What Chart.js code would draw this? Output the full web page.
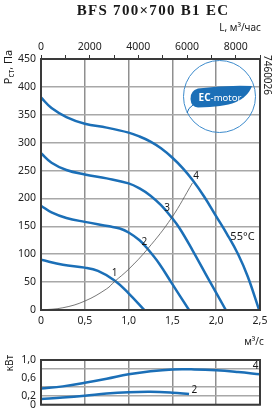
<!DOCTYPE html>
<html lang="ru">
<head>
<meta charset="UTF-8">
<title>BFS 700×700 B1 EC</title>
<script src="https://cdn.jsdelivr.net/npm/chart.js"></script>
<style>
    body { margin: 0; background: #fff; }
    #grafico { position: absolute; left: 0; top: 0; }
    #potencia { position: absolute; left: 0; top: 335px; }
</style>
</head>
<body>
<canvas id="grafico" width="273" height="335"></canvas>
<canvas id="potencia" width="273" height="81"></canvas>
<script>
// расход, м3/с  и давление, Па
const curva1Q = [0, 0.25, 0.5, 0.65, 0.84, 1.0, 1.18];
const curva1P = [90, 81, 76, 70, 53, 30, 0];
const curva2Q = [0, 0.12, 0.29, 0.5, 0.78, 0.9, 1.0, 1.125, 1.22, 1.35, 1.485, 1.69];
const curva2P = [187, 175, 165, 158, 150, 146, 139, 125, 109, 83, 50, 0];
const curva3Q = [0, 0.12, 0.29, 0.5, 0.75, 1.0, 1.125, 1.25, 1.37, 1.485, 1.58, 1.73, 1.92, 2.11];
const curva3P = [281, 264, 251, 243, 236, 227, 218, 205, 188, 167, 147, 107, 53, 0];
const curva4Q = [0, 0.12, 0.29, 0.5, 0.75, 1.0, 1.125, 1.25, 1.37, 1.5, 1.62, 1.73, 1.86, 2.0, 2.12, 2.25, 2.36, 2.49];
const curva4P = [381, 362, 346, 334, 327, 318, 311, 302, 290, 273, 254, 233, 204, 168, 137, 100, 60, 0];
// характеристика сети
const redeQ = [0, 0.25, 0.5, 0.75, 0.84, 1.0, 1.22, 1.49, 1.73];
const redeP = [0, 4, 16, 38, 51, 73, 110, 165, 228];
// мощность, кВт
const pot4Q = [0, 0.25, 0.5, 0.75, 1.0, 1.25, 1.5, 1.75, 2.0, 2.25, 2.5];
const pot4W = [0.36, 0.41, 0.49, 0.58, 0.68, 0.75, 0.79, 0.79, 0.77, 0.73, 0.68];
const pot2Q = [0, 0.25, 0.5, 0.75, 1.0, 1.25, 1.5, 1.69];
const pot2W = [0.13, 0.16, 0.2, 0.25, 0.28, 0.29, 0.27, 0.24];

const ticksQ = [0, 0.5, 1.0, 1.5, 2.0, 2.5];
const ticksL = [0, 2000, 4000, 6000, 8000];
const rotulosMain = [['1', 0.84, 66], ['2', 1.18, 122], ['3', 1.44, 183], ['4', 1.77, 240]];
const rotulosPot = [['4', 2.45, 0.86], ['2', 1.75, 0.32]];

const AZUL = '#1b6fb7';
const FONTE = '"Noto Sans", sans-serif';

function pontos(xs, ys) {
    return xs.map((x, i) => ({ x: x, y: ys[i] }));
}
function virgula(v) {
    return v === 0 ? '0' : v.toFixed(1).replace('.', ',');
}
function serie(xs, ys) {
    return {
        data: pontos(xs, ys), borderColor: AZUL, borderWidth: 2.5, pointRadius: 0,
        fill: false, tension: 0.4
    };
}

const moldura = {
    id: 'moldura',
    afterDatasetsDraw(chart) {
        const a = chart.chartArea, ctx = chart.ctx;
        ctx.save();
        ctx.strokeStyle = '#3a3a3a';
        ctx.lineWidth = 2;
        ctx.strokeRect(a.left, a.top, a.right - a.left, a.bottom - a.top);
        ctx.restore();
    }
};

const textosMain = {
    id: 'textosMain',
    afterDraw(chart) {
        const ctx = chart.ctx, sx = chart.scales.x, sy = chart.scales.y;
        ctx.save();
        ctx.fillStyle = '#1a1a1a';
        // titulo
        ctx.font = 'bold 15px "Liberation Serif", serif';
        ctx.letterSpacing = '1.3px';
        ctx.textAlign = 'center';
        ctx.textBaseline = 'middle';
        ctx.fillText('BFS 700×700 B1 EC', 153, 11);
        ctx.letterSpacing = '0px';
        ctx.font = '10px ' + FONTE;
        ctx.textAlign = 'right';
        ctx.fillText('L, м³/час', 261, 28);
        // eixo y
        ctx.save();
        ctx.translate(9, 67);
        ctx.rotate(-Math.PI / 2);
        ctx.textAlign = 'left';
        const f1 = '11px ' + FONTE, f2 = '8px ' + FONTE;
        ctx.font = f1; const w1 = ctx.measureText('Р').width;
        ctx.font = f2; const w2 = ctx.measureText('ст').width;
        ctx.font = f1; const w3 = ctx.measureText(', Па').width;
        let x0 = -(w1 + w2 + w3) / 2;
        ctx.fillText('Р', x0, 0);
        ctx.font = f2; ctx.fillText('ст', x0 + w1, 3);
        ctx.font = f1; ctx.fillText(', Па', x0 + w1 + w2, 0);
        ctx.restore();
        // codigo
        ctx.save();
        ctx.translate(267, 75);
        ctx.rotate(Math.PI / 2);
        ctx.textAlign = 'center';
        ctx.font = '10px ' + FONTE;
        ctx.fillText('7460026', 0, 0);
        ctx.restore();
        // rotulos das curvas
        ctx.font = '10px ' + FONTE;
        ctx.textAlign = 'center';
        rotulosMain.forEach(r => ctx.fillText(r[0], sx.getPixelForValue(r[1]), sy.getPixelForValue(r[2])));
        ctx.font = '11px ' + FONTE;
        ctx.fillText('55°C', sx.getPixelForValue(2.3), sy.getPixelForValue(131));
        // logo EC-motor
        ctx.strokeStyle = '#3d8bcc';
        ctx.lineWidth = 1;
        ctx.beginPath();
        ctx.arc(219.5, 96.5, 36, 0, Math.PI * 2);
        ctx.stroke();
        ctx.fillStyle = AZUL;
        ctx.beginPath();
        ctx.moveTo(252, 86);
        ctx.quadraticCurveTo(225, 85, 198, 88.5);
        ctx.quadraticCurveTo(190, 91, 190.5, 99);
        ctx.quadraticCurveTo(191, 107, 198, 107.5);
        ctx.bezierCurveTo(232, 107, 246, 101, 252, 86);
        ctx.fill();
        ctx.strokeStyle = AZUL;
        ctx.lineWidth = 1;
        ctx.beginPath();
        ctx.moveTo(193, 105);
        ctx.quadraticCurveTo(188, 108, 187, 113);
        ctx.stroke();
        ctx.fillStyle = '#fff';
        ctx.textAlign = 'left';
        ctx.textBaseline = 'middle';
        ctx.font = 'bold 10px ' + FONTE;
        const we = ctx.measureText('EC').width;
        ctx.font = '9.5px ' + FONTE;
        const wm = ctx.measureText('-motor').width;
        const xi = 220 - (we + wm) / 2;
        ctx.font = 'bold 10px ' + FONTE;
        ctx.fillText('EC', xi, 98.5);
        ctx.font = '9.5px ' + FONTE;
        ctx.fillText('-motor', xi + we, 98.5);
        ctx.restore();
    }
};

const textosPot = {
    id: 'textosPot',
    afterDraw(chart) {
        const ctx = chart.ctx, sx = chart.scales.x, sy = chart.scales.y;
        ctx.save();
        ctx.fillStyle = '#1a1a1a';
        ctx.textBaseline = 'middle';
        ctx.font = '10px ' + FONTE;
        ctx.textAlign = 'right';
        ctx.fillText('м³/с', 264, 7);
        ctx.save();
        ctx.translate(10, 28);
        ctx.rotate(-Math.PI / 2);
        ctx.textAlign = 'center';
        ctx.fillText('кВт', 0, 0);
        ctx.restore();
        ctx.textAlign = 'center';
        rotulosPot.forEach(r => ctx.fillText(r[0], sx.getPixelForValue(r[1]), sy.getPixelForValue(r[2])));
        ctx.restore();
    }
};

const fonteTick = { family: FONTE, size: 10.5 };

new Chart(document.getElementById('grafico'), {
    type: 'line',
    data: {
        datasets: [
            { data: pontos(redeQ, redeP), borderColor: '#555', borderWidth: 0.8, pointRadius: 0, fill: false, tension: 0.4 },
            serie(curva1Q, curva1P),
            serie(curva2Q, curva2P),
            serie(curva3Q, curva3P),
            serie(curva4Q, curva4P)
        ]
    },
    options: {
        responsive: false,
        animation: false,
        layout: { padding: { top: 0, right: 13, bottom: 0, left: 0 } },
        plugins: { legend: { display: false }, tooltip: { enabled: false } },
        scales: {
            x: {
                type: 'linear', position: 'bottom', min: 0, max: 2.5,
                afterBuildTicks: s => { s.ticks = ticksQ.map(v => ({ value: v })); },
                ticks: { callback: v => virgula(v), color: '#222', font: fonteTick, padding: 5, maxRotation: 0 },
                grid: { color: '#8f8f8f', lineWidth: 1.5, drawTicks: false },
                border: { display: false },
                afterFit: s => { s.height = 25; }
            },
            x2: {
                type: 'linear', position: 'top', min: 0, max: 9000,
                ticks: {
                    stepSize: 1000, autoSkip: false, maxRotation: 0, padding: 2,
                    callback: v => ticksL.includes(v) ? String(v) : '',
                    color: '#222', font: fonteTick
                },
                grid: { drawOnChartArea: false, tickLength: 4, color: '#333', lineWidth: 1 },
                border: { display: true, color: '#333' },
                afterFit: s => { s.height = 59; }
            },
            y: {
                min: 0, max: 450,
                ticks: { stepSize: 50, padding: 5, color: '#222', font: fonteTick },
                grid: { color: '#a8a8a8', lineWidth: 1.5, drawTicks: false },
                border: { display: false },
                afterFit: s => { s.width = 41; }
            }
        }
    },
    plugins: [moldura, textosMain]
});

new Chart(document.getElementById('potencia'), {
    type: 'line',
    data: {
        datasets: [serie(pot4Q, pot4W), serie(pot2Q, pot2W)]
    },
    options: {
        responsive: false,
        animation: false,
        layout: { padding: { top: 25, right: 13, bottom: 0, left: 0 } },
        plugins: { legend: { display: false }, tooltip: { enabled: false } },
        scales: {
            x: {
                type: 'linear', min: 0, max: 2.5,
                ticks: { display: false, stepSize: 0.5 },
                grid: { color: '#8f8f8f', lineWidth: 1.5, drawTicks: false },
                border: { display: false },
                afterFit: s => { s.height = 7; }
            },
            y: {
                min: 0, max: 1,
                ticks: {
                    stepSize: 0.2, autoSkip: false, padding: 5, color: '#222', font: fonteTick,
                    callback: v => { const r = Math.round(v * 10); return [0, 2, 6, 10].includes(r) ? virgula(v) : ''; }
                },
                grid: {
                    drawTicks: false, lineWidth: 1.5,
                    color: c => Math.round(c.tick.value * 10) === 6 ? 'rgba(0,0,0,0)' : '#a8a8a8'
                },
                border: { display: false },
                afterFit: s => { s.width = 41; }
            }
        }
    },
    plugins: [moldura, textosPot]
});
</script>
</body>
</html>
